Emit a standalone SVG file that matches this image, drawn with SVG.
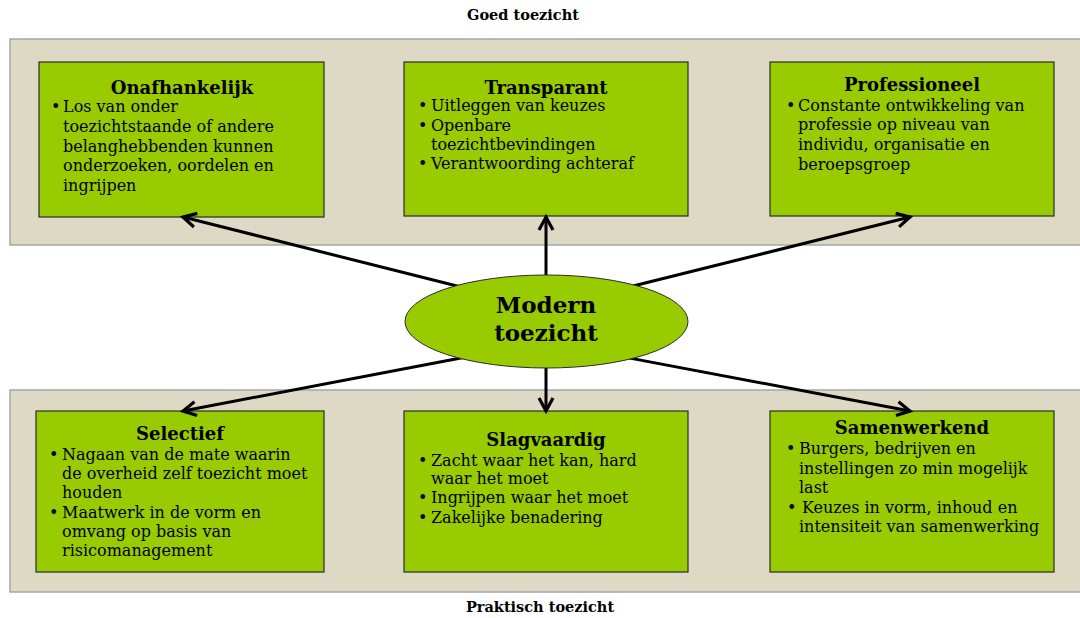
<svg xmlns="http://www.w3.org/2000/svg" width="1080" height="618" viewBox="0 0 1080 618">
<style>
.band{fill:#DDD9C4;stroke:#A6A6A6;stroke-width:1.5}
.box{fill:#99CC00;stroke:#2b2b2b;stroke-width:1.2}
.ttl{font-family:"DejaVu Serif","Liberation Serif",serif;font-weight:bold;font-size:18px;fill:#000;text-anchor:middle}
.txt{font-family:"DejaVu Serif","Liberation Serif",serif;font-size:16px;fill:#000}
.lbl{font-family:"DejaVu Serif","Liberation Serif",serif;font-weight:bold;font-size:14.5px;fill:#000;text-anchor:middle}
.big{font-family:"DejaVu Serif","Liberation Serif",serif;font-weight:bold;font-size:23px;fill:#000;text-anchor:middle}
.con{stroke:#000;stroke-width:3;fill:none;marker-end:url(#arr)}
</style>
<defs>
<marker id="arr" markerUnits="userSpaceOnUse" viewBox="-16 -10 20 20" refX="0" refY="0" markerWidth="20" markerHeight="20" orient="auto">
<polyline points="-13,-7 0,0 -13,7" fill="none" stroke="#000" stroke-width="3.2" stroke-linejoin="miter"/>
</marker>
</defs>
<rect width="1080" height="618" fill="#fff"/>
<text class="lbl" x="523" y="20">Goed toezicht</text>
<rect class="band" x="10" y="39" width="1075" height="206"/>
<rect class="band" x="10" y="390" width="1075" height="202"/>
<text class="lbl" x="540" y="612">Praktisch toezicht</text>

<g id="onafhankelijk">
<rect class="box" x="39" y="62" width="285" height="155"/>
<text class="ttl" x="182" y="94">Onafhankelijk</text>
<text class="txt"><tspan x="51" y="112">•</tspan><tspan x="63" y="112">Los van onder</tspan><tspan x="63" y="132">toezichtstaande of andere</tspan><tspan x="63" y="152">belanghebbenden kunnen</tspan><tspan x="63" y="171">onderzoeken, oordelen en</tspan><tspan x="63" y="191">ingrijpen</tspan></text>
</g>

<g id="transparant">
<rect class="box" x="404" y="62" width="284" height="154"/>
<text class="ttl" x="546" y="94">Transparant</text>
<text class="txt"><tspan x="418" y="111">•</tspan><tspan x="431" y="111">Uitleggen van keuzes</tspan><tspan x="418" y="131">•</tspan><tspan x="431" y="131">Openbare</tspan><tspan x="431" y="150">toezichtbevindingen</tspan><tspan x="418" y="169">•</tspan><tspan x="431" y="169">Verantwoording achteraf</tspan></text>
</g>

<g id="professioneel">
<rect class="box" x="770" y="62" width="284" height="154"/>
<text class="ttl" x="912" y="91">Professioneel</text>
<text class="txt"><tspan x="786" y="111">•</tspan><tspan x="798" y="111">Constante ontwikkeling van</tspan><tspan x="798" y="130">professie op niveau van</tspan><tspan x="798" y="150">individu, organisatie en</tspan><tspan x="798" y="170">beroepsgroep</tspan></text>
</g>

<g id="selectief">
<rect class="box" x="36" y="411" width="288" height="161"/>
<text class="ttl" x="180" y="440">Selectief</text>
<text class="txt"><tspan x="49" y="460">•</tspan><tspan x="62" y="460">Nagaan van de mate waarin</tspan><tspan x="62" y="479">de overheid zelf toezicht moet</tspan><tspan x="62" y="498">houden</tspan><tspan x="49" y="518">•</tspan><tspan x="62" y="518">Maatwerk in de vorm en</tspan><tspan x="62" y="537">omvang op basis van</tspan><tspan x="62" y="556">risicomanagement</tspan></text>
</g>

<g id="slagvaardig">
<rect class="box" x="404" y="411" width="284" height="161"/>
<text class="ttl" x="546" y="446">Slagvaardig</text>
<text class="txt"><tspan x="418" y="466">•</tspan><tspan x="431" y="466">Zacht waar het kan, hard</tspan><tspan x="431" y="484">waar het moet</tspan><tspan x="418" y="503">•</tspan><tspan x="431" y="503">Ingrijpen waar het moet</tspan><tspan x="418" y="523">•</tspan><tspan x="431" y="523">Zakelijke benadering</tspan></text>
</g>

<g id="samenwerkend">
<rect class="box" x="770" y="411" width="284" height="161"/>
<text class="ttl" x="912" y="434">Samenwerkend</text>
<text class="txt"><tspan x="786" y="454">•</tspan><tspan x="799" y="454">Burgers, bedrijven en</tspan><tspan x="799" y="474">instellingen zo min mogelijk</tspan><tspan x="799" y="493">last</tspan><tspan x="787" y="513">•</tspan><tspan x="802" y="513">Keuzes in vorm, inhoud en</tspan><tspan x="799" y="532">intensiteit van samenwerking</tspan></text>
</g>

<g id="connectors">
<line class="con" x1="470" y1="289.3" x2="183" y2="217"/>
<line class="con" x1="546" y1="290" x2="546" y2="217"/>
<line class="con" x1="622" y1="288.7" x2="910" y2="217"/>
<line class="con" x1="470" y1="356.2" x2="183" y2="411"/>
<line class="con" x1="546" y1="355" x2="546" y2="411"/>
<line class="con" x1="622" y1="356.6" x2="910" y2="411"/>
</g>

<g id="modern">
<ellipse cx="546.5" cy="321.5" rx="141.5" ry="46.5" fill="#99CC00" stroke="#2b2b2b" stroke-width="1"/>
<text class="big" x="546" y="313">Modern</text>
<text class="big" x="546" y="341">toezicht</text>
</g>
</svg>
